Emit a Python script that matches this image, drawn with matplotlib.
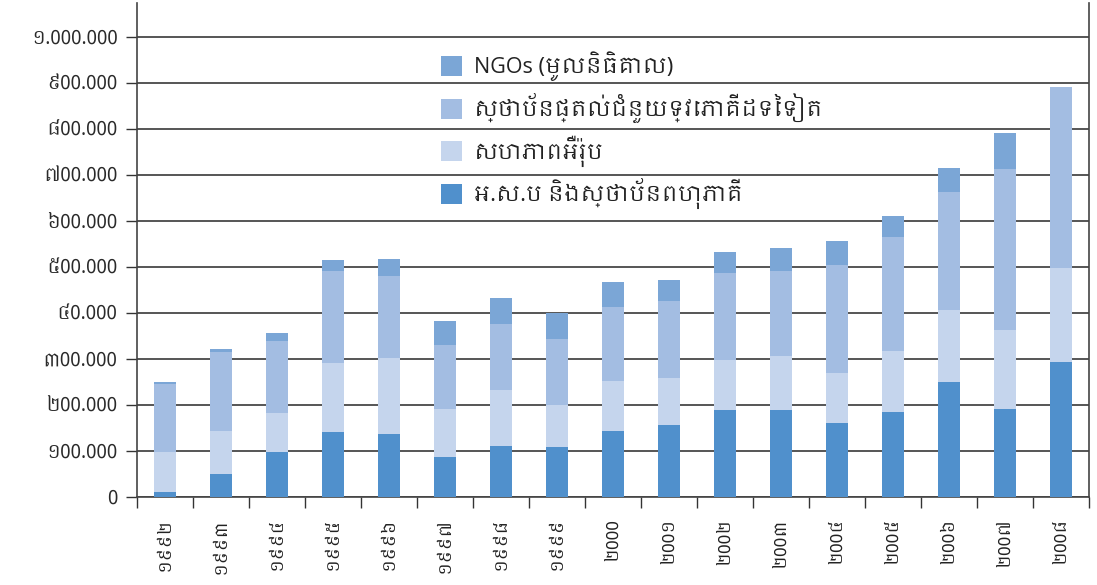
import matplotlib
matplotlib.use('Agg')
import matplotlib.pyplot as plt
from matplotlib import font_manager as fm
import numpy as np

# Values (aid disbursed, stacked by source)
years = ['១៩៩២', '១៩៩៣', '១៩៩៤', '១៩៩៥', '១៩៩៦', '១៩៩៧', '១៩៩៨', '១៩៩៩',
         '២000', '២00១', '២00២', '២00៣', '២00៤', '២00៥', '២00៦', '២00៧', '២00៨']
un_multi = [11000, 50000, 98000, 141000, 137000, 87000, 111000, 109000,
            143500, 156500, 189000, 189000, 161000, 185000, 250000, 191000, 293500]
eu = [87000, 93500, 85000, 150000, 165000, 104000, 121500, 91000,
      108500, 102000, 109000, 117500, 108500, 132000, 156500, 172000, 204500]
bilateral = [148000, 171500, 156000, 200000, 178000, 139000, 143500, 143500,
             161000, 167000, 189000, 184500, 234500, 248000, 256500, 350000, 393000]
ngos = [4000, 6500, 17000, 24000, 37000, 52500, 56500, 56500,
        54000, 46000, 45500, 50000, 52500, 46000, 52000, 78000, 0]

series_labels = ['អ.ស.ប និងស្ថាប័នពហុភាគី', 'សហភាពអឺរ៉ុប',
                 'ស្ថាប័នផ្តល់ជំនួយទ្វេភាគីដទៃទៀត', 'NGOs (មូលនិធិគោល)']
colors = ['#5090cc', '#c5d5ed', '#a3bde2', '#7ba6d6']

ytick_vals = [0, 100000, 200000, 300000, 400000, 500000,
              600000, 700000, 800000, 900000, 1000000]
ytick_labels = ['0', '១00.000', '២00.000', '៣00.000', '៤0.000', '៥00.000',
                '៦00.000', '៧00.000', '៨00.000', '៩00.000', '១.000.000']

# pick a font that has Khmer glyphs, if any is installed
khmer = None
for f in fm.fontManager.ttflist:
    if 'khmer' in f.name.lower():
        khmer = f.name
        break
fams = ([khmer] if khmer else []) + ['Open Sans', 'DejaVu Sans']
plt.rcParams['font.family'] = fams

fig = plt.figure(figsize=(10.97, 5.85), dpi=100)
ax = fig.add_axes([0.1249, 0.1504, 0.8678, 0.8445])

x = np.arange(len(years))
bottom = np.zeros(len(years))
handles = []
for vals, lab, c in zip([un_multi, eu, bilateral, ngos], series_labels, colors):
    h = ax.bar(x, vals, width=0.39, bottom=bottom, color=c, label=lab,
               zorder=3, linewidth=0)
    handles.append(h)
    bottom += np.array(vals)

ax.set_xlim(-0.5, len(years) - 0.5)
ax.set_ylim(0, 1073900)

ax.set_yticks(ytick_vals)
ax.set_yticklabels(ytick_labels, fontsize=13.5, color='#2a2a2a')
ax.yaxis.grid(True, color='#555555', linewidth=1.4, zorder=0)
ax.set_axisbelow(True)
ax.tick_params(axis='y', direction='out', length=8, width=1, color='#333333', pad=6)

ax.set_xticks(x)
ax.set_xticklabels(years, rotation=90, fontsize=12.5, color='#222222')
ax.set_xticks(np.arange(len(years) + 1) - 0.5, minor=True)
ax.tick_params(axis='x', which='major', length=0, pad=15)
ax.tick_params(axis='x', which='minor', direction='out', length=8, width=1, color='#333333')

for s in ['left', 'bottom', 'right']:
    ax.spines[s].set_color('#444444')
    ax.spines[s].set_linewidth(1.2)
ax.spines['top'].set_visible(False)

leg = ax.legend(handles[::-1], series_labels[::-1], loc='upper left',
                bbox_to_anchor=(430 / 1097, 1 - 41 / 585),
                bbox_transform=fig.transFigure, frameon=False,
                fontsize=15.5, handlelength=1.0, handleheight=1.0,
                handletextpad=0.55, labelspacing=0.55, borderpad=0)
for t in leg.get_texts():
    t.set_color('#222222')

fig.savefig('out.png', dpi=100, facecolor='white')
